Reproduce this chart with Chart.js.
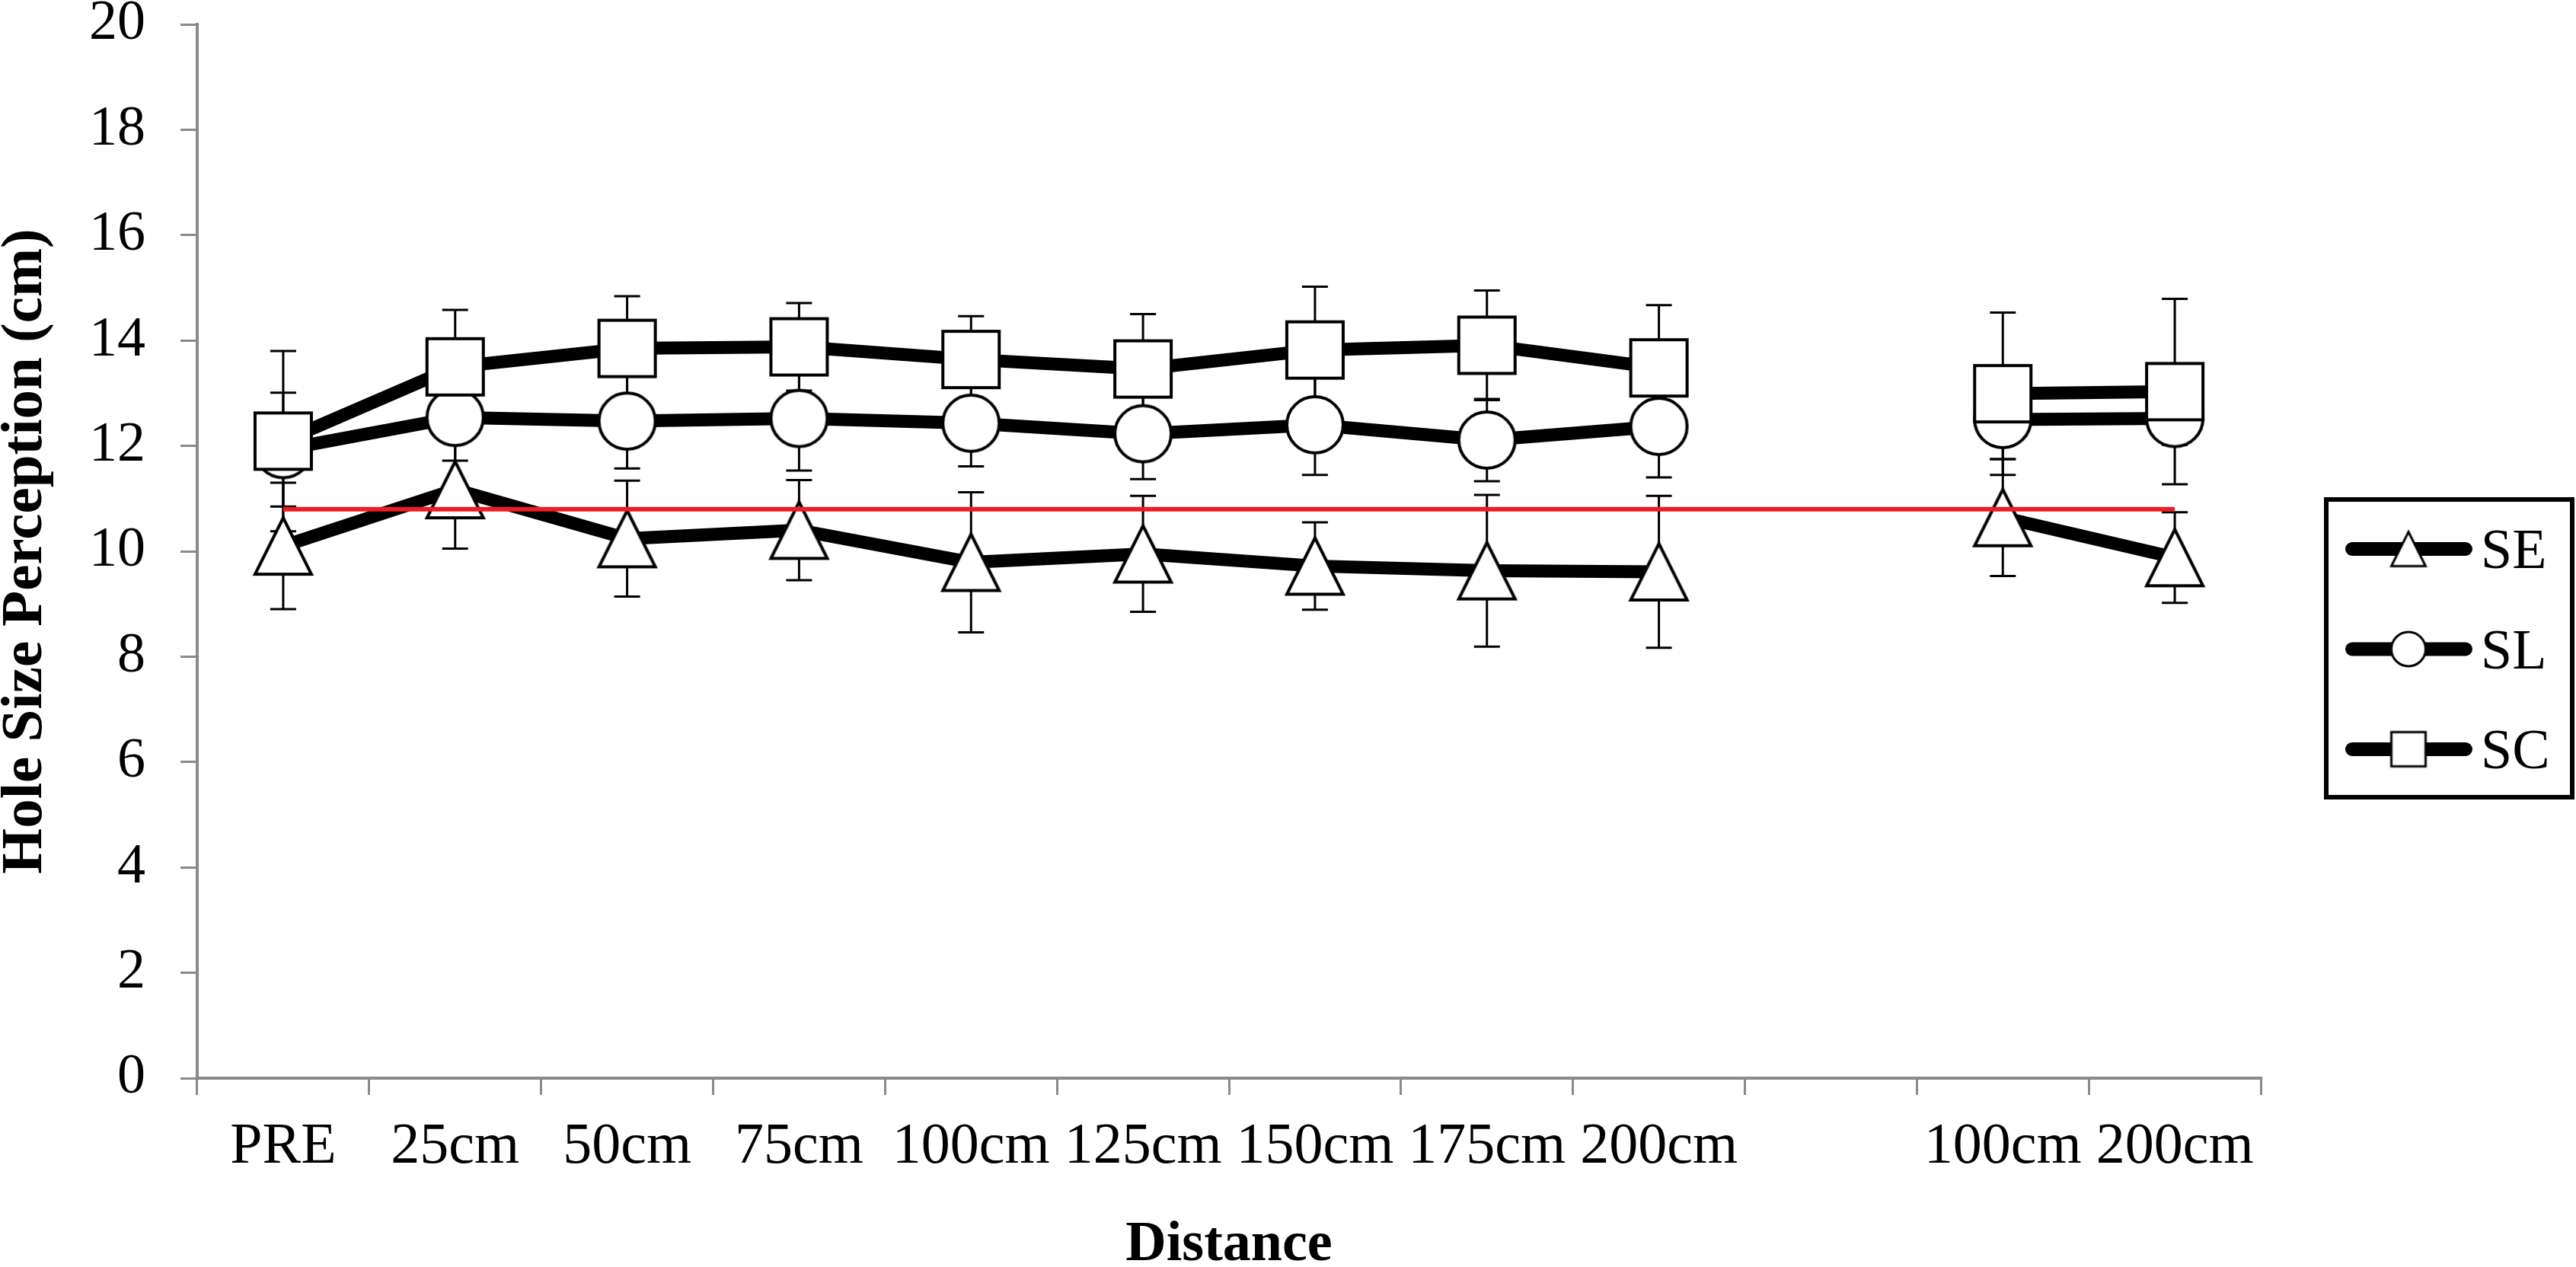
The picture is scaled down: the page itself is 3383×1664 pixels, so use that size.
<!DOCTYPE html>
<html>
<head>
<meta charset="utf-8">
<script src="https://cdn.jsdelivr.net/npm/chart.js@4.4.1/dist/chart.umd.min.js"></script>
<style>
  html, body { margin: 0; padding: 0; background: #fff; }
  #wrap { width: 3383px; height: 1664px; }
</style>
</head>
<body>
<div id="wrap"><canvas id="chart"></canvas></div>
<script>
// categories (slot 9 is the empty gap between the two groups)
const labels = ['PRE', '25cm', '50cm', '75cm', '100cm', '125cm', '150cm', '175cm', '200cm', '', '100cm', '200cm'];

// means and +/- error
const seValues = [10.10, 11.17, 10.24, 10.40, 9.79, 9.95, 9.72, 9.63, 9.61, null, 10.64, 9.88];
const seErrors = [1.20, 1.12, 1.10, 0.95, 1.33, 1.10, 0.83, 1.44, 1.44, null, 1.11, 0.86];

const slValues = [11.93, 12.54, 12.47, 12.52, 12.43, 12.23, 12.40, 12.11, 12.37, null, 12.50, 12.52];
const slErrors = [1.08, 0.82, 0.90, 0.99, 0.82, 0.86, 0.95, 0.78, 0.97, null, 0.75, 0.50];

const scValues = [12.09, 13.50, 13.85, 13.88, 13.64, 13.46, 13.82, 13.91, 13.48, null, 12.99, 13.03];
const scErrors = [1.71, 1.08, 0.99, 0.83, 0.82, 1.04, 1.20, 1.04, 1.19, null, 1.54, 1.76];

// red reference line
const refLine = [10.8, 10.8, 10.8, 10.8, 10.8, 10.8, 10.8, 10.8, 10.8, 10.8, 10.8, 10.8];

const yTicks = { min: 0, max: 20, step: 2 };

const FONT = 'Liberation Serif';
const GREY = '#8a8a8a';

function makeMarker(shape, size, lw) {
  const pad = lw + 3;
  const c = document.createElement('canvas');
  c.width = size + pad * 2;
  c.height = size + pad * 2;
  const ctx = c.getContext('2d');
  const h = size / 2, cx = c.width / 2, cy = c.height / 2;
  ctx.beginPath();
  if (shape === 'triangle') {
    ctx.moveTo(cx, cy - h);
    ctx.lineTo(cx + h, cy + h);
    ctx.lineTo(cx - h, cy + h);
    ctx.closePath();
  } else if (shape === 'circle') {
    ctx.arc(cx, cy, h, 0, Math.PI * 2);
  } else {
    ctx.rect(cx - h, cy - h, size, size);
  }
  ctx.fillStyle = '#fff';
  ctx.fill();
  ctx.lineWidth = lw;
  ctx.strokeStyle = '#000';
  ctx.stroke();
  return c;
}

const markers = {
  SE: makeMarker('triangle', 74, 4),
  SL: makeMarker('circle', 74, 4),
  SC: makeMarker('square', 74, 4),
};
const legendMarkers = {
  SE: makeMarker('triangle', 45, 3),
  SL: makeMarker('circle', 45, 3),
  SC: makeMarker('square', 45, 3),
};

function series(label, values, errors, order) {
  return {
    label: label,
    data: values,
    errors: errors,
    borderColor: '#000',
    borderWidth: 17,
    borderJoinStyle: 'round',
    tension: 0,
    pointStyle: markers[label],
    // image markers ignore the radius; keep it small so it adds no layout padding
    pointRadius: 1,
    pointBorderWidth: 0,
    order: order,
  };
}

// error bars go under every line and marker
const errorBars = {
  id: 'errorBars',
  beforeDatasetsDraw(chart) {
    const ctx = chart.ctx;
    const y = chart.scales.y;
    ctx.save();
    ctx.strokeStyle = '#000';
    ctx.lineWidth = 3;
    chart.data.datasets.forEach((ds, i) => {
      if (!ds.errors) return;
      const meta = chart.getDatasetMeta(i);
      meta.data.forEach((pt, j) => {
        const v = ds.data[j], e = ds.errors[j];
        if (v == null || e == null) return;
        const top = y.getPixelForValue(v + e);
        const bot = y.getPixelForValue(v - e);
        ctx.beginPath();
        ctx.moveTo(pt.x, top); ctx.lineTo(pt.x, bot);
        ctx.moveTo(pt.x - 17, top); ctx.lineTo(pt.x + 17, top);
        ctx.moveTo(pt.x - 17, bot); ctx.lineTo(pt.x + 17, bot);
        ctx.stroke();
      });
    });
    ctx.restore();
  }
};

// boxed legend on the right, line through marker like the original
const boxLegend = {
  id: 'boxLegend',
  afterDraw(chart) {
    const ctx = chart.ctx;
    ctx.save();
    ctx.lineWidth = 6;
    ctx.strokeStyle = '#000';
    ctx.strokeRect(3055, 656, 323, 391);
    const rows = chart.data.datasets.filter(ds => ds.errors);
    rows.forEach((ds, i) => {
      const yy = 721 + i * 131.5;
      ctx.beginPath();
      ctx.lineCap = 'round';
      ctx.lineWidth = 18;
      ctx.moveTo(3089, yy);
      ctx.lineTo(3238, yy);
      ctx.stroke();
      const m = legendMarkers[ds.label];
      ctx.drawImage(m, 3163 - m.width / 2, yy - m.height / 2);
      ctx.fillStyle = '#000';
      ctx.font = '74px "' + FONT + '"';
      ctx.textAlign = 'left';
      ctx.textBaseline = 'alphabetic';
      ctx.fillText(ds.label, 3258, yy + 25);
    });
    ctx.restore();
  }
};

new Chart(document.getElementById('chart'), {
  type: 'line',
  data: {
    labels: labels,
    datasets: [
      series('SE', seValues, seErrors, 3),
      series('SL', slValues, slErrors, 2),
      series('SC', scValues, scErrors, 1),
      {
        label: 'ref',
        data: refLine,
        borderColor: '#ED1C24',
        borderWidth: 6,
        pointRadius: 0,
        tension: 0,
        order: 0,
      },
    ],
  },
  options: {
    responsive: true,
    maintainAspectRatio: false,
    animation: false,
    layout: {
      padding: { top: 32, right: 414, bottom: 0, left: 0 },
    },
    scales: {
      x: {
        type: 'category',
        offset: true,
        grid: {
          offset: true,
          drawOnChartArea: false,
          tickLength: 22,
          color: GREY,
          lineWidth: 3,
        },
        border: { color: GREY, width: 4 },
        ticks: {
          color: '#000',
          font: { family: FONT, size: 76 },
          padding: 23,
          maxRotation: 0,
          autoSkip: false,
        },
        title: {
          display: true,
          text: 'Distance',
          color: '#000',
          font: { family: FONT, size: 74, weight: 'bold', lineHeight: 1 },
          padding: { top: 0, bottom: -9 },
        },
        afterFit(scale) { scale.height = 248; },
      },
      y: {
        min: yTicks.min,
        max: yTicks.max,
        grid: {
          drawOnChartArea: false,
          tickLength: 22,
          color: GREY,
          lineWidth: 3,
        },
        border: { color: GREY, width: 4 },
        ticks: {
          stepSize: yTicks.step,
          color: '#000',
          font: { family: FONT, size: 74, lineHeight: 0.8 },
          padding: 46,
        },
        title: {
          display: true,
          text: 'Hole Size Perception (cm)',
          color: '#000',
          font: { family: FONT, size: 77, weight: 'bold', lineHeight: 1 },
          padding: { top: -4, bottom: 0 },
        },
        afterFit(scale) {
          scale.width = 259;
          // the label padding would otherwise push the plot top down
          scale.paddingTop = 0;
          scale.paddingBottom = 0;
        },
      },
    },
    plugins: {
      legend: { display: false },
      tooltip: { enabled: false },
    },
  },
  plugins: [errorBars, boxLegend],
});
</script>
</body>
</html>
